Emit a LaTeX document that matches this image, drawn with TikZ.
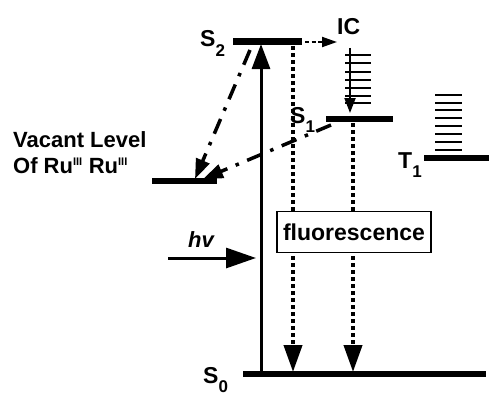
\documentclass[tikz,border=0pt]{standalone}
\usepackage{fontspec}
\setmainfont{Liberation Sans}
\usetikzlibrary{arrows.meta}
\newcommand{\lvlab}[2]{\fontsize{23}{26}\selectfont #1\raisebox{-0.42em}{\fontsize{17}{17}\selectfont #2}}
\begin{document}
\begin{tikzpicture}[x=1pt,y=-1pt,
  bar/.style={line width=6.5pt},
  ladder/.style={line width=1.5pt},
  lab/.style={inner sep=0pt, anchor=base west, font=\bfseries},
  dotline/.style={line width=4pt, dash pattern=on 4pt off 3pt, -{Triangle[length=27pt,width=18pt]}},
  dashdot/.style={line width=3.5pt, dash pattern=on 16pt off 9pt on 3.5pt off 9pt, -{Triangle[length=20pt,width=14pt]}},
  big/.style={line width=3pt}]
\useasboundingbox (0,0) rectangle (489,396);
% level coordinates
\coordinate (S2L) at (233,41.5); \coordinate (S2R) at (302,41.5);
\coordinate (S1L) at (326,119); \coordinate (S1R) at (393,119);
\coordinate (T1L) at (424,158); \coordinate (T1R) at (489,158);
\coordinate (VL) at (152,181); \coordinate (VR) at (217,181);
\coordinate (S0L) at (243,374); \coordinate (S0R) at (486,374);
\draw[bar] (S2L) -- (S2R);
\draw[bar] (S1L) -- (S1R);
\draw[bar] (T1L) -- (T1R);
\draw[bar] (VL) -- (VR);
\draw[bar] (S0L) -- (S0R);
% excitation
\coordinate (ex0) at (261,374); \coordinate (ex1) at (261,44);
\draw[big, -{Triangle[length=25pt,width=18pt]}] (ex0) -- (ex1);
% hv arrow
\coordinate (hvA) at (168,258); \coordinate (hvB) at (256,258);
\draw[big, -{Triangle[length=30pt,width=20pt]}] (hvA) -- (hvB);
\node[lab, font=\bfseries\itshape\fontsize{22}{26}\selectfont] (hv) at (188,247) {hv};
% fluorescence dotted arrows
\coordinate (f1a) at (293,46); \coordinate (f1b) at (293,372);
\coordinate (f2a) at (353,123); \coordinate (f2b) at (353,372);
\draw[dotline] (f1a) -- (f1b);
\draw[dotline] (f2a) -- (f2b);
\node[draw, fill=white, line width=1.5pt, minimum width=154pt, minimum height=41pt, inner sep=0pt,
  font=\bfseries\fontsize{23}{26}\selectfont] (fl) at (354,232) {fluorescence};
% IC
\coordinate (icA) at (305,42); \coordinate (icB) at (337,42);
\draw[line width=2pt, dash pattern=on 4pt off 2.5pt, -{Triangle[length=15pt,width=10pt]}] (icA) -- (icB);
\node[lab, font=\bfseries\fontsize{23}{26}\selectfont] (IC) at (337,35) {IC};
% S1 vibrational ladder
\foreach \yy in {55,63,72,80,88,96,103} \draw[ladder] (345,\yy) -- (371,\yy);
\coordinate (vrA) at (350,48); \coordinate (vrB) at (350,113);
\draw[line width=2pt, -{Triangle[length=15pt,width=11pt]}] (vrA) -- (vrB);
% T1 ladder
\foreach \yy in {95,103,110,118,126,134,142,150} \draw[ladder] (435,\yy) -- (462,\yy);
% electron transfer dash-dot arrows
\coordinate (etA) at (250,50); \coordinate (etB) at (195,179);
\coordinate (etC) at (331,125); \coordinate (etD) at (203,179);
\draw[dashdot] (etA) -- (etB);
\draw[dashdot] (etC) -- (etD);
% labels
\node[lab] (lS2) at (200,47) {\lvlab{S}{2}};
\node[lab] (lS1) at (290,123) {\lvlab{S}{1}};
\node[lab] (lS0) at (203,383) {\lvlab{S}{0}};
\node[lab] (lT1) at (398,168) {\lvlab{T}{1}};
\node[lab, font=\bfseries\fontsize{22}{26}\selectfont] (vac1) at (13,147) {Vacant Level};
\node[lab, font=\bfseries\fontsize{22}{26}\selectfont] (vac2) at (13,173) {Of Ru\textsuperscript{\fontsize{11}{11}\selectfont III} Ru\textsuperscript{\fontsize{11}{11}\selectfont III}};
\end{tikzpicture}
\end{document}
